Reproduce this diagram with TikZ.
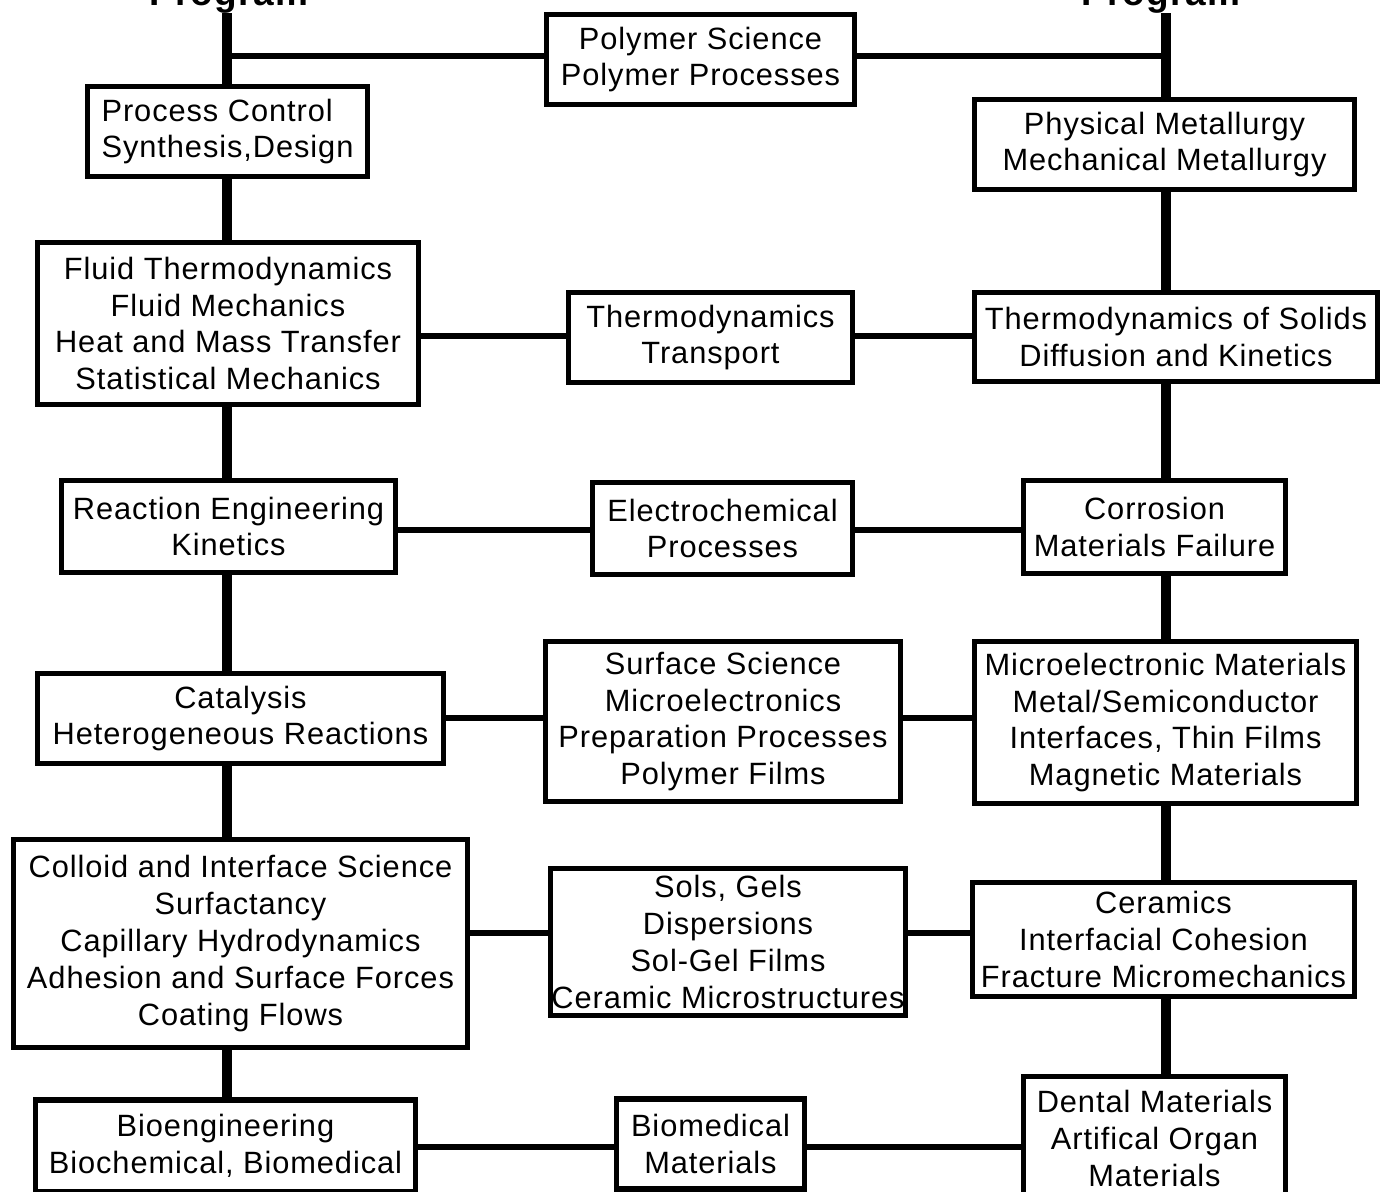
\documentclass[tikz,border=0pt]{standalone}
\usepackage{fontspec}
\setmainfont{Liberation Sans}[LetterSpace=3]
\begin{document}
\begin{tikzpicture}[x=0.5pt,y=-0.5pt,
  box/.style={draw=black, line width=2.6pt, fill=white, align=center, inner sep=0pt,
    font=\fontsize{15.4}{18.4}\selectfont},
  spine/.style={line width=5pt},
  link/.style={line width=3.2pt},
  head/.style={font=\fontsize{18.5}{20}\selectfont\bfseries, anchor=base}]
\useasboundingbox (0,0) rectangle (1382,1191);
\clip (0,0) rectangle (1382,1191);
\fill[white] (0,0) rectangle (1382,1191);

% headings (cut off at the top, as in the reference)
\node[head] (hl) at (229,5) {Program};
\node[head] (hr) at (1161,5) {Program};
\coordinate (tl) at (227,13);
\coordinate (tr) at (1166,13);

% boxes
\node[box, minimum width=154pt, minimum height=45pt] (poly) at (700.5,59.5) {Polymer Science\\Polymer Processes};
\node[box, minimum width=140pt, minimum height=45pt, align=left] (pc) at (227.5,131.5) {Process Control\\Synthesis,Design};
\node[box, minimum width=190pt, minimum height=45pt] (pm) at (1164.5,144.5) {Physical Metallurgy\\Mechanical Metallurgy};
\node[box, minimum width=190.5pt, minimum height=81pt] (fl) at (228,323.5) {Fluid Thermodynamics\\Fluid Mechanics\\Heat and Mass Transfer\\Statistical Mechanics};
\node[box, minimum width=142pt, minimum height=45pt] (tt) at (710.5,337.5) {Thermodynamics\\Transport};
\node[box, minimum width=201.5pt, minimum height=44.5pt] (ts) at (1176,337) {Thermodynamics of Solids\\Diffusion and Kinetics};
\node[box, minimum width=167pt, minimum height=46pt] (re) at (228.5,526.5) {Reaction Engineering\\Kinetics};
\node[box, minimum width=130pt, minimum height=46pt] (ep) at (722.5,528.5) {Electrochemical\\Processes};
\node[box, minimum width=131pt, minimum height=46.5pt] (co) at (1154.5,527) {Corrosion\\Materials Failure};
\node[box, minimum width=203pt, minimum height=45pt] (ca) at (240.5,718.5) {Catalysis\\Heterogeneous Reactions};
\node[box, minimum width=177.5pt, minimum height=80pt] (ss) at (723,721.5) {Surface Science\\Microelectronics\\Preparation Processes\\Polymer Films};
\node[box, minimum width=191pt, minimum height=81pt] (mm) at (1165.5,722.5) {Microelectronic Materials\\Metal/Semiconductor\\Interfaces, Thin Films\\Magnetic Materials};
\node[box, minimum width=227pt, minimum height=104pt] (ci) at (240.5,943.5) {Colloid and Interface Science\\Surfactancy\\Capillary Hydrodynamics\\Adhesion and Surface Forces\\Coating Flows};
\node[box, minimum width=177.5pt, minimum height=73.5pt] (sg) at (728,942) {Sols, Gels\\Dispersions\\Sol-Gel Films\\Ceramic Microstructures};
\node[box, minimum width=191pt, minimum height=57pt] (ce) at (1163.5,939.5) {Ceramics\\Interfacial Cohesion\\Fracture Micromechanics};
\node[box, minimum width=190pt, minimum height=46pt] (bi) at (225.5,1146) {Bioengineering\\Biochemical, Biomedical};
\node[box, minimum width=94pt, minimum height=45pt] (bm) at (710.5,1144) {Biomedical\\Materials};
\node[box, minimum width=131pt, minimum height=62pt] (de) at (1154.5,1138.5) {Dental Materials\\Artifical Organ\\Materials};

% left spine
\draw[spine] (tl) -- (tl |- pc.north);
\draw[spine] (pc.south -| tl) -- (fl.north -| tl);
\draw[spine] (fl.south -| tl) -- (re.north -| tl);
\draw[spine] (re.south -| tl) -- (ca.north -| tl);
\draw[spine] (ca.south -| tl) -- (ci.north -| tl);
\draw[spine] (ci.south -| tl) -- (bi.north -| tl);

% right spine
\draw[spine] (tr) -- (tr |- pm.north);
\draw[spine] (pm.south -| tr) -- (ts.north -| tr);
\draw[spine] (ts.south -| tr) -- (co.north -| tr);
\draw[spine] (co.south -| tr) -- (mm.north -| tr);
\draw[spine] (mm.south -| tr) -- (ce.north -| tr);
\draw[spine] (ce.south -| tr) -- (de.north -| tr);

% horizontal links
\coordinate (y0) at (0,56);
\draw[link] (tl |- y0) -- (poly.west |- y0);
\draw[link] (poly.east |- y0) -- (tr |- y0);
\coordinate (y1) at (0,336);
\draw[link] (fl.east |- y1) -- (tt.west |- y1);
\draw[link] (tt.east |- y1) -- (ts.west |- y1);
\coordinate (y2) at (0,530);
\draw[link] (re.east |- y2) -- (ep.west |- y2);
\draw[link] (ep.east |- y2) -- (co.west |- y2);
\coordinate (y3) at (0,718);
\draw[link] (ca.east |- y3) -- (ss.west |- y3);
\draw[link] (ss.east |- y3) -- (mm.west |- y3);
\coordinate (y4) at (0,933);
\draw[link] (ci.east |- y4) -- (sg.west |- y4);
\draw[link] (sg.east |- y4) -- (ce.west |- y4);
\coordinate (y5) at (0,1147);
\draw[link] (bi.east |- y5) -- (bm.west |- y5);
\draw[link] (bm.east |- y5) -- (de.west |- y5);
\end{tikzpicture}
\end{document}
